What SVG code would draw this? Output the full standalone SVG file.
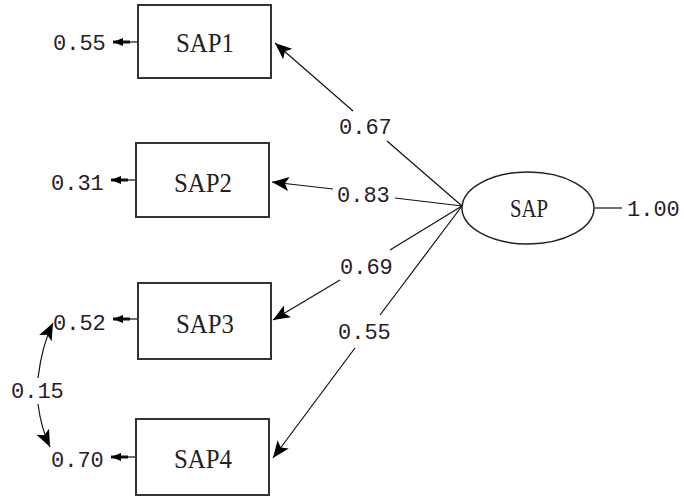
<svg xmlns="http://www.w3.org/2000/svg" width="684" height="498" viewBox="0 0 684 498">
<defs>
<style>
.box{fill:#fff;stroke:#333;stroke-width:2}
.ell{fill:#fff;stroke:#222;stroke-width:1.5}
.lbl{font-family:"Liberation Serif",serif;font-size:28px;fill:#222;text-anchor:middle}
.num{font-family:"Liberation Mono",monospace;font-size:22px;fill:#2a1a2a}
.ln{stroke:#111;stroke-width:1.2;fill:none}
.er{stroke:#111;stroke-width:3;fill:none}
</style>
<marker id="ah" markerUnits="userSpaceOnUse" markerWidth="20" markerHeight="14" refX="17" refY="7" orient="auto">
<path d="M0,0 L17,7 L0,14 L4,7 Z" fill="#000"/>
</marker>
<marker id="eh" markerUnits="userSpaceOnUse" markerWidth="12" markerHeight="10" refX="10" refY="5" orient="auto">
<path d="M0,1 L10,5 L0,9 Z" fill="#000"/>
</marker>
</defs>
<g id="connectors">
<path class="ln" d="M462,206 L387,141"/>
<path class="ln" d="M353,111 L275,43" marker-end="url(#ah)"/>
<path class="ln" d="M462,206 L395,198"/>
<path class="ln" d="M333,189 L272,182" marker-end="url(#ah)"/>
<path class="ln" d="M462,206 L390,250"/>
<path class="ln" d="M340,280 L273,320" marker-end="url(#ah)"/>
<path class="ln" d="M462,206 L380,315"/>
<path class="ln" d="M355,348 L273,458" marker-end="url(#ah)"/>
<path class="ln" d="M595,208 L622,208"/>
<path class="ln" d="M137,42 L128,42"/>
<path class="er" d="M130,42 L113,42" marker-end="url(#eh)"/>
<path class="ln" d="M136,180 L126,180"/>
<path class="er" d="M128,180 L111,180" marker-end="url(#eh)"/>
<path class="ln" d="M137,319 L128,319"/>
<path class="er" d="M130,319 L113,319" marker-end="url(#eh)"/>
<path class="ln" d="M136,457 L126,457"/>
<path class="er" d="M128,457 L111,457" marker-end="url(#eh)"/>
<path class="ln" d="M38,378 Q42,345 53,323" marker-end="url(#ah)"/>
<path class="ln" d="M38,404 Q41,428 50,447" marker-end="url(#ah)"/>
</g>
<g id="SAP1"><rect class="box" x="138" y="5" width="133" height="73"/><text class="lbl" x="205" y="52" textLength="58" lengthAdjust="spacingAndGlyphs">SAP1</text></g>
<g id="SAP2"><rect class="box" x="136" y="143" width="133" height="74"/><text class="lbl" x="203" y="192" textLength="58" lengthAdjust="spacingAndGlyphs">SAP2</text></g>
<g id="SAP3"><rect class="box" x="138" y="283" width="133" height="76"/><text class="lbl" x="205" y="333" textLength="58" lengthAdjust="spacingAndGlyphs">SAP3</text></g>
<g id="SAP4"><rect class="box" x="136" y="419" width="133" height="76"/><text class="lbl" x="203" y="468" textLength="58" lengthAdjust="spacingAndGlyphs">SAP4</text></g>
<g id="SAP"><ellipse class="ell" cx="528" cy="208" rx="66" ry="36"/><text class="lbl" x="529" y="217" textLength="38" lengthAdjust="spacingAndGlyphs" style="font-size:25px">SAP</text></g>
<g id="labels">
<text class="num" x="53" y="50">0.55</text>
<text class="num" x="51" y="190">0.31</text>
<text class="num" x="53" y="330">0.52</text>
<text class="num" x="51" y="467">0.70</text>
<text class="num" x="11" y="398">0.15</text>
<text class="num" x="339" y="134">0.67</text>
<text class="num" x="337" y="202">0.83</text>
<text class="num" x="340" y="274">0.69</text>
<text class="num" x="338" y="339">0.55</text>
<text class="num" x="627" y="216">1.00</text>
</g>
</svg>
